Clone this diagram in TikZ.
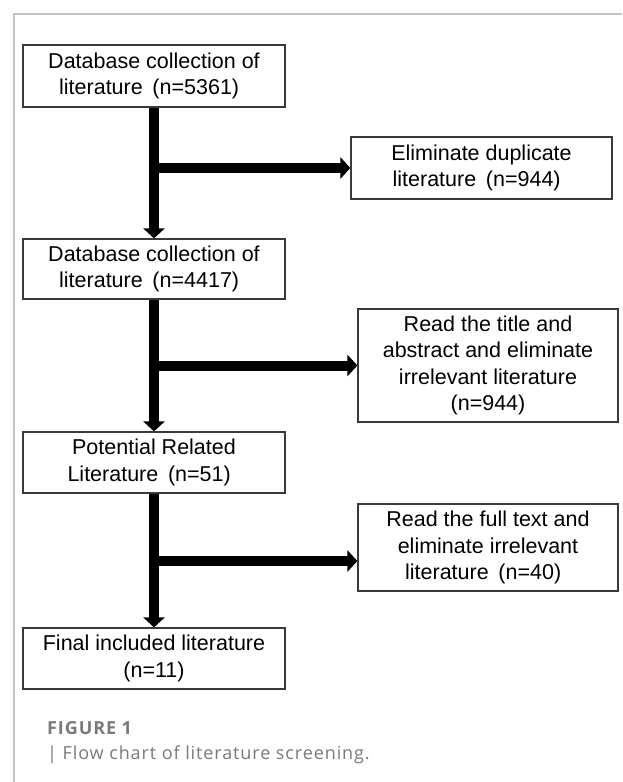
\documentclass[tikz,border=0pt]{standalone}
\usepackage{fontspec}
\setmainfont{Liberation Sans}
\newfontfamily\capfont[LetterSpace=5]{Open Sans}
\usetikzlibrary{arrows.meta}
\definecolor{framegray}{HTML}{C4C4C4}
\definecolor{boxline}{HTML}{3A3A3A}
\definecolor{capgray}{HTML}{7A7A7A}
\newcommand\fwp[1]{\hspace{0.45em}(#1)\hspace*{0.45em}}
\begin{document}
\begin{tikzpicture}[x=1pt,y=-1pt,
  flowbox/.style={draw=boxline, line width=1.2pt, fill=white, align=center, inner sep=0pt,
    font=\fontsize{21.5}{26.5}\selectfont},
  leftbox/.style={flowbox, minimum width=262pt},
  rightbox/.style={flowbox, minimum width=260pt},
  thickarrow/.style={line width=10pt, -{Triangle[width=21pt,length=10pt]}},
  frameline/.style={draw=framegray, line width=1.4pt},
  captitle/.style={anchor=base west, inner sep=0pt, text=capgray, font=\capfont\bfseries\fontsize{18}{21}\selectfont},
  captext/.style={anchor=base west, inner sep=0pt, text=capgray, font=\capfont\fontsize{18}{21}\selectfont}]
\useasboundingbox[fill=white] (0,0) rectangle (622,782);
\draw[frameline] (14,782) -- (14,14) -- (622,14);

\node[leftbox, minimum height=62pt] (b1) at (154,76) {Database collection of\\literature\fwp{n=5361}};
\node[flowbox, minimum width=261pt, minimum height=62pt] (b2) at (481.5,168) {Eliminate duplicate\\literature\fwp{n=944}};
\node[leftbox, minimum height=60pt] (b3) at (154,269) {Database collection of\\literature\fwp{n=4417}};
\node[rightbox, minimum height=113pt] (b4) at (488,365.5) {Read the title and\\abstract and eliminate\\irrelevant literature\\(n=944)};
\node[leftbox, minimum height=61pt] (b5) at (154,462.5) {Potential Related\\Literature\fwp{n=51}};
\node[rightbox, minimum height=87pt] (b6) at (488,547.5) {Read the full text and\\eliminate irrelevant\\literature\fwp{n=40}};
\node[leftbox, minimum height=61pt] (b7) at (154,658.5) {Final included literature\\(n=11)};

\coordinate (j1) at (b1.south |- b2.west);
\coordinate (j2) at (b3.south |- b4.west);
\coordinate (j3) at (154,561);

\draw[thickarrow] (b1.south) -- (b3.north);
\draw[thickarrow] (b3.south) -- (b5.north);
\draw[thickarrow] (b5.south) -- (b7.north);
\draw[thickarrow] ([xshift=-5pt]j1) -- (b2.west);
\draw[thickarrow] ([xshift=-5pt]j2) -- (b4.west);
\draw[thickarrow] ([xshift=-5pt]j3) -- (b6.west |- j3);

\node[captitle] (fig) at (47,734) {FIGURE 1};
\node[captext] (cap) at (47,759) {| Flow chart of literature screening.};
\end{tikzpicture}
\end{document}
